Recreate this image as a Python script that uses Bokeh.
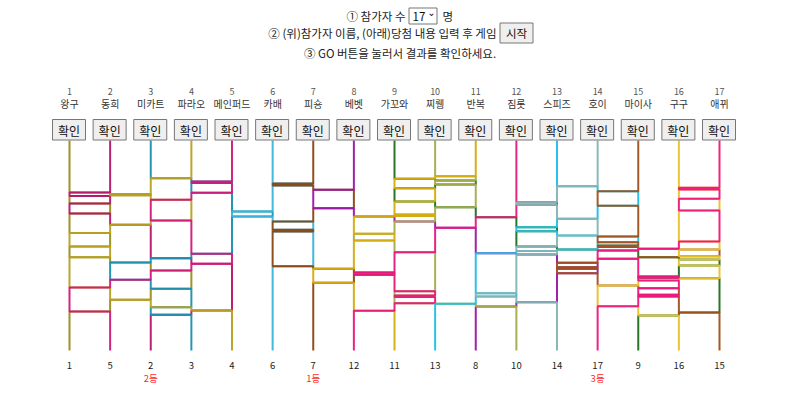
from bokeh.plotting import figure
from bokeh.models import Range1d
from bokeh.core.properties import value
from bokeh.embed import file_html
from bokeh.resources import INLINE

# ---------------- data ----------------
player_no = list(range(1, 18))
player_names = ["왕구", "동희", "미카트", "파라오", "메인퍼드", "카배", "피숑", "베벳", "가꼬와",
                "찌뤵", "반복", "짐롯", "스피즈", "호이", "마이사", "구구", "애뀌"]
player_colors = ["#9a8c1a", "#b5166b", "#1a8fb0", "#b8a020", "#d0187a", "#38b4d8", "#8b4513",
                 "#9a16a8", "#1e6e1e", "#a3ac48", "#d4ac0d", "#e8177d", "#1ec0e8", "#84b4b4",
                 "#a0501a", "#e8c22a", "#f0157f"]
result_order = [1, 5, 2, 3, 4, 6, 7, 12, 11, 13, 8, 10, 14, 17, 9, 16, 15]
prize_labels = ["", "", "2등", "", "", "", "1등", "", "", "", "", "", "", "3등", "", "", ""]
participant_count = "17"

# rung depths (0 = top of ladder, 100 = bottom) for each gap between column g and g+1
rungs_by_gap = [
    [24.76, 26.43, 30.00, 34.76, 44.05, 50.48, 55.57, 70.00, 81.43],                 # 1-2
    [25.52, 26.10, 40.14, 58.10, 66.33, 75.86],                                      # 2-3
    [17.95, 28.24, 38.10, 56.05, 61.90, 70.62, 79.38, 83.00],                        # 3-4
    [19.52, 20.29, 24.90, 53.95, 58.71, 80.95],                                      # 4-5
    [33.81, 36.19],                                                                  # 5-6
    [20.48, 21.43, 38.57, 42.52, 43.33, 59.86],                                      # 6-7
    [23.48, 32.24, 61.10, 67.76],                                                    # 7-8
    [36.19, 44.43, 47.62, 62.86, 63.95, 81.10],                                      # 8-9
    [18.24, 22.71, 29.05, 35.24, 35.95, 38.57, 53.19, 71.76, 73.81, 74.57, 77.48],   # 9-10
    [17.00, 19.05, 20.95, 31.76, 41.57, 77.76],                                      # 10-11
    [36.52, 53.67, 72.71, 74.29, 79.05],                                             # 11-12
    [29.38, 30.62, 41.29, 43.19, 50.48, 52.62, 54.29, 77.00],                        # 12-13
    [21.76, 37.29, 45.24, 51.90, 58.24, 60.33, 61.10, 63.19],                        # 13-14
    [24.14, 31.10, 45.71, 48.43, 50.00, 50.76, 52.38, 56.33, 69.05, 78.90],          # 14-15
    [51.57, 55.57, 64.76, 65.33, 66.67, 70.33, 73.48, 74.24, 83.33],                 # 15-16
    [22.50, 23.30, 27.76, 33.33, 48.05, 51.90, 55.10, 56.67, 59.52, 65.57, 81.90],   # 16-17
]

# ---------------- layout helpers (page pixels -> data) ----------------
FONT = "Noto Sans CJK KR"
W, H = 792, 400
COL0_PX, COL_STEP = 69.0, 40.625
TOP_PX, BOT_PX = 140.0, 350.0


def fx(px):
    return 1 + (px - COL0_PX) / COL_STEP


def fy(py):
    return (py - TOP_PX) / (BOT_PX - TOP_PX) * 100.0


p = figure(width=W, height=H, output_backend="svg", toolbar_location=None,
           x_range=Range1d(fx(0), fx(W)), y_range=Range1d(fy(H), fy(0)),
           x_axis_type=None, y_axis_type=None, min_border=0)
p.outline_line_color = None
p.grid.visible = False
p.background_fill_color = "white"
p.border_fill_color = "white"

# ---------------- ladder paths (traced through the rungs) ----------------
events = sorted((d, g) for g, ds in enumerate(rungs_by_gap, start=1) for d in ds)
xs, ys = [], []
for pl in player_no:
    col = pl
    px_, py_ = [col], [0.0]
    for d, g in events:
        if g == col:
            px_ += [col, col + 1]
            py_ += [d, d]
            col += 1
        elif g == col - 1:
            px_ += [col, col - 1]
            py_ += [d, d]
            col -= 1
    px_.append(col)
    py_.append(100.0)
    xs.append(px_)
    ys.append(py_)

p.multi_line(xs=xs, ys=ys, line_color=player_colors, line_width=2, line_alpha=0.95)

# ---------------- top labels and buttons ----------------
p.text(x=player_no, y=[fy(91)] * 17, text=[str(n) for n in player_no],
       text_font=value(FONT), text_font_size="9px", text_color="#555555",
       text_align="center", text_baseline="middle")
p.text(x=player_no, y=[fy(102.5)] * 17, text=player_names,
       text_font=value(FONT), text_font_size="10px", text_color="#333333",
       text_align="center", text_baseline="middle")
bw = 16.5 / COL_STEP
bc = [c - 0.5 / COL_STEP for c in player_no]
p.quad(left=[c - bw for c in bc], right=[c + bw for c in bc],
       top=[fy(119)] * 17, bottom=[fy(139.5)] * 17,
       fill_color="#efefef", line_color="#767676", line_width=1)
p.text(x=bc, y=[fy(129.5)] * 17, text=["확인"] * 17,
       text_font=value(FONT), text_font_size="12px", text_color="#111111",
       text_align="center", text_baseline="middle")

# ---------------- bottom results ----------------
p.text(x=player_no, y=[fy(365)] * 17, text=[str(n) for n in result_order],
       text_font=value(FONT), text_font_size="9.5px", text_color="#222222",
       text_align="center", text_baseline="middle")
p.text(x=player_no, y=[fy(377)] * 17, text=prize_labels,
       text_font=value(FONT), text_font_size="9.5px", text_color="#ff2a2a",
       text_align="center", text_baseline="middle")

# ---------------- header ----------------
HF = "11.5px"
p.text(x=[fx(405)], y=[fy(15)], text=["① 참가자 수"], text_font=value(FONT),
       text_font_size=HF, text_color="#222222", text_align="right", text_baseline="middle")
p.quad(left=[fx(408.5)], right=[fx(436.5)], top=[fy(7.5)], bottom=[fy(23.5)],
       fill_color="white", line_color="#767676", line_width=1)
p.text(x=[fx(412)], y=[fy(15.5)], text=[participant_count], text_font=value(FONT),
       text_font_size=HF, text_color="#111111", text_align="left", text_baseline="middle")
p.text(x=[fx(431)], y=[fy(17)], text=["⌄"], text_font=value("DejaVu Sans"),
       text_font_size="10px", text_color="#111111", text_align="center", text_baseline="bottom")
p.text(x=[fx(442)], y=[fy(15)], text=["명"], text_font=value(FONT),
       text_font_size=HF, text_color="#222222", text_align="left", text_baseline="middle")

p.text(x=[fx(496)], y=[fy(32)], text=["② (위)참가자 이름, (아래)당첨 내용 입력 후 게임"],
       text_font=value(FONT), text_font_size=HF, text_color="#222222",
       text_align="right", text_baseline="middle")
p.quad(left=[fx(499.5)], right=[fx(532.5)], top=[fy(22.5)], bottom=[fy(42.5)],
       fill_color="#efefef", line_color="#767676", line_width=1)
p.text(x=[fx(516)], y=[fy(32.5)], text=["시작"], text_font=value(FONT),
       text_font_size=HF, text_color="#111111", text_align="center", text_baseline="middle")

p.text(x=[fx(399.5)], y=[fy(52)], text=["③ GO 버튼을 눌러서 결과를 확인하세요."],
       text_font=value(FONT), text_font_size=HF, text_color="#222222",
       text_align="center", text_baseline="middle")

open("out.html", "w").write(file_html(p, INLINE))
